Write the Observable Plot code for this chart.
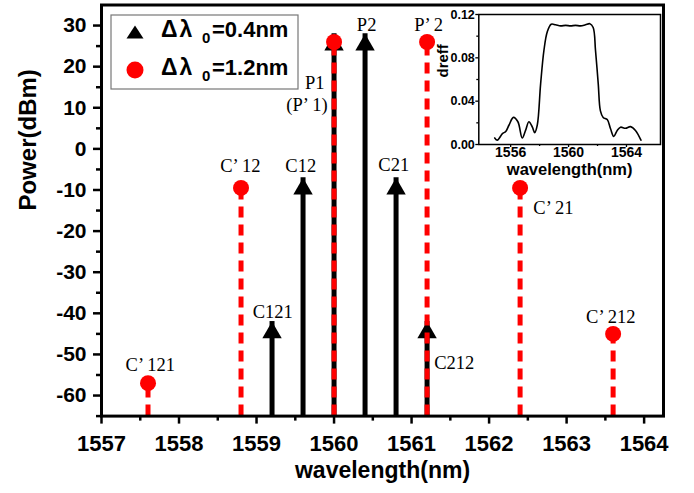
<!DOCTYPE html>
<html>
<head>
<meta charset="utf-8">
<script src="https://cdn.jsdelivr.net/npm/d3@7"></script>
<script src="https://cdn.jsdelivr.net/npm/@observablehq/plot@0.6"></script>
<style>
  body { margin: 0; background: #fff; }
  #wrap { position: relative; width: 694px; height: 493px; }
  #wrap svg { position: absolute; }
</style>
</head>
<body>
<div id="wrap"></div>
<script>
// ---- data ----
const blackWavelengths = [1559.2, 1559.6, 1560.0, 1560.4, 1560.8, 1561.2];
const blackPowers = [-42, -7, 28, 28, -7, -42];
const redWavelengths = [1557.6, 1558.8, 1560.0, 1561.2, 1562.4, 1563.6];
const redPowers = [-57, -9.5, 26, 26, -9.5, -45];

const labelTexts = ["C’ 121", "C’ 12", "C121", "C12", "P1", "(P’ 1)", "P2", "C21", "P’ 2", "C212", "C’ 21", "C’ 212"];
const labelWavelengths = [1557.63, 1558.79, 1559.21, 1559.57, 1559.75, 1559.65, 1560.42, 1560.77, 1561.22, 1561.55, 1562.83, 1563.57];
const labelPowers = [-52.7, -4.2, -39.6, -4.2, 16.0, 10.7, 30.1, -4.0, 30.1, -52, -14.4, -41];

const legendTexts = ["=0.4nm", "=1.2nm"];

const xTicks = [1557, 1558, 1559, 1560, 1561, 1562, 1563, 1564];
const xMinorTicks = [1557.5, 1558.5, 1559.5, 1560.5, 1561.5, 1562.5, 1563.5];
const yTicks = [-60, -50, -40, -30, -20, -10, 0, 10, 20, 30];
const yMinorTicks = [-65, -55, -45, -35, -25, -15, -5, 5, 15, 25];

// inset: diffraction efficiency vs wavelength
const insetWavelengths = [1554.9, 1555.08, 1555.43, 1555.66, 1555.89, 1556.19, 1556.5, 1556.8, 1557.03, 1557.26, 1557.5, 1557.66, 1557.84, 1558.07, 1558.3, 1558.53, 1558.8, 1559.1, 1559.45, 1559.8, 1560.14, 1560.48, 1560.83, 1561.17, 1561.47, 1561.7, 1561.86, 1562.05, 1562.2, 1562.39, 1562.67, 1562.9, 1563.12, 1563.36, 1563.59, 1563.93, 1564.28, 1564.62, 1565.0];
const insetDreff = [0.006, 0.004, 0.010, 0.012, 0.018, 0.025, 0.021, 0.006, 0.013, 0.021, 0.016, 0.011, 0.018, 0.056, 0.087, 0.104, 0.111, 0.1105, 0.1095, 0.110, 0.1095, 0.110, 0.1095, 0.1105, 0.1115, 0.108, 0.087, 0.056, 0.031, 0.025, 0.023, 0.0145, 0.0075, 0.013, 0.016, 0.015, 0.0165, 0.013, 0.004];
const insetXTicks = [1556, 1560, 1564];
const insetXMinor = [1558, 1562];
const insetYTicks = [0, 0.04, 0.08, 0.12];
const insetYMinor = [0.02, 0.06, 0.10];

// ---- tables ----
const black = blackWavelengths.map((w, i) => ({w, p: blackPowers[i]}));
const red = redWavelengths.map((w, i) => ({w, p: redPowers[i]}));
const labels = labelTexts.map((t, i) => ({t, w: labelWavelengths[i], p: labelPowers[i]}));
const inset = insetWavelengths.map((w, i) => ({w, d: insetDreff[i]}));

const SANS = "'Liberation Sans', Arial, sans-serif";
const SERIF = "'Liberation Serif', 'Times New Roman', serif";
const RED = "#ff0000";

// triangle symbol geometry (tip at data value)
const triHalf = 5.6;                       // |y| of d3.symbolTriangle
const triR = Math.sqrt(3 * Math.sqrt(3) * triHalf * triHalf / Math.PI);

function legend() {
  const g = d3.create("svg:g").attr("text-anchor", "start");
  g.append("rect").attr("x", 111).attr("y", 15).attr("width", 187).attr("height", 74)
    .attr("fill", "white").attr("stroke", "#777").attr("stroke-width", 1.2);
  g.append("path").attr("d", "M135,25.5L126.5,38.5L143.5,38.5Z").attr("fill", "black");
  g.append("circle").attr("cx", 135).attr("cy", 70).attr("r", 8.5).attr("fill", RED);
  legendTexts.forEach((t, i) => {
    const base = 37 + i * 38;
    const common = s => s.attr("font-family", SANS).attr("font-weight", "bold").attr("fill", "black").attr("text-anchor", "start");
    common(g.append("text")).attr("x", 161).attr("y", base).attr("font-size", 23).attr("letter-spacing", 2).text("Δλ");
    common(g.append("text")).attr("x", 202).attr("y", base + 6).attr("font-size", 15).text("0");
    common(g.append("text")).attr("x", 212).attr("y", base).attr("font-size", 22).text(t);
  });
  return g.node();
}

const main = Plot.plot({
  width: 694,
  height: 493,
  marginLeft: 101,
  marginRight: 31,
  marginTop: 4.5,
  marginBottom: 77.4,
  style: {fontFamily: SANS, fontWeight: "bold", fontSize: "21px", background: "transparent", color: "black"},
  x: {domain: [1557, 1564.25]},
  y: {domain: [-65, 35]},
  marks: [
    Plot.ruleX(black, {x: "w", y1: -65, y2: "p", stroke: "black", strokeWidth: 5}),
    Plot.dot(black, {x: "w", y: "p", symbol: "triangle", r: triR, fill: "black", stroke: "none", dy: 2 * triHalf}),
    Plot.ruleX(red, {x: "w", y1: -65, y2: "p", stroke: RED, strokeWidth: 5, strokeDasharray: "11,7"}),
    Plot.dot(red, {x: "w", y: "p", r: 8, fill: RED, stroke: "none"}),
    Plot.text(labels, {x: "w", y: "p", text: "t", fontFamily: SERIF, fontWeight: "normal", fontSize: 18.5, fill: "black"}),
    Plot.axisX(xTicks, {tickSize: 8, tickPadding: 11, strokeWidth: 2.5, tickFormat: d => String(d), label: null, fontSize: 22}),
    Plot.axisX(xMinorTicks, {tickSize: 5, strokeWidth: 2.5, tickFormat: () => "", label: null}),
    Plot.axisY(yTicks, {tickSize: 8, tickPadding: 7, strokeWidth: 2.5, tickFormat: d => String(d), label: null, fontSize: 21}),
    Plot.axisY(yMinorTicks, {tickSize: 5, strokeWidth: 2.5, tickFormat: () => "", label: null}),
    Plot.frame({stroke: "black", strokeWidth: 3}),
    Plot.text(["Power(dBm)"], {frameAnchor: "left", dx: -73, rotate: -90, fontSize: 24, fontWeight: "bold"}),
    Plot.text(["wavelength(nm)"], {frameAnchor: "bottom", dy: 62, fontSize: 23, fontWeight: "bold"}),
    legend
  ]
});
main.style.left = "0px";
main.style.top = "0px";

const insetPlot = Plot.plot({
  width: 250,
  height: 190,
  marginLeft: 58.3,
  marginRight: 10,
  marginTop: 14,
  marginBottom: 46,
  style: {fontFamily: SANS, fontWeight: "bold", fontSize: "13px", background: "transparent", color: "black"},
  x: {domain: [1553.8, 1566.35]},
  y: {domain: [0, 0.12]},
  marks: [
    Plot.frame({stroke: "black", strokeWidth: 1.5}),
    Plot.line(inset, {x: "w", y: "d", stroke: "black", strokeWidth: 1.6, curve: "catmull-rom"}),
    Plot.axisX(insetXTicks, {tickSize: 3, tickPadding: 0, strokeWidth: 1.3, tickFormat: d => String(d), label: null, fontSize: 14}),
    Plot.axisX(insetXMinor, {tickSize: 2, strokeWidth: 1.3, tickFormat: () => "", label: null}),
    Plot.axisY(insetYTicks, {tickSize: 3, tickPadding: 1, strokeWidth: 1.3, tickFormat: d3.format(".2f"), label: null, fontSize: 12.5}),
    Plot.axisY(insetYMinor, {tickSize: 2, strokeWidth: 1.3, tickFormat: () => "", label: null}),
    Plot.text(["dreff"], {frameAnchor: "left", dx: -36, dy: -2, rotate: -90, fontSize: 15, fontWeight: "bold"}),
    Plot.text(["wavelength(nm)"], {frameAnchor: "bottom", dy: 30, fontSize: 16.5, fontWeight: "bold"})
  ]
});
insetPlot.style.left = "420px";
insetPlot.style.top = "0px";

const wrap = document.getElementById("wrap");
wrap.appendChild(main);
wrap.appendChild(insetPlot);
</script>
</body>
</html>
